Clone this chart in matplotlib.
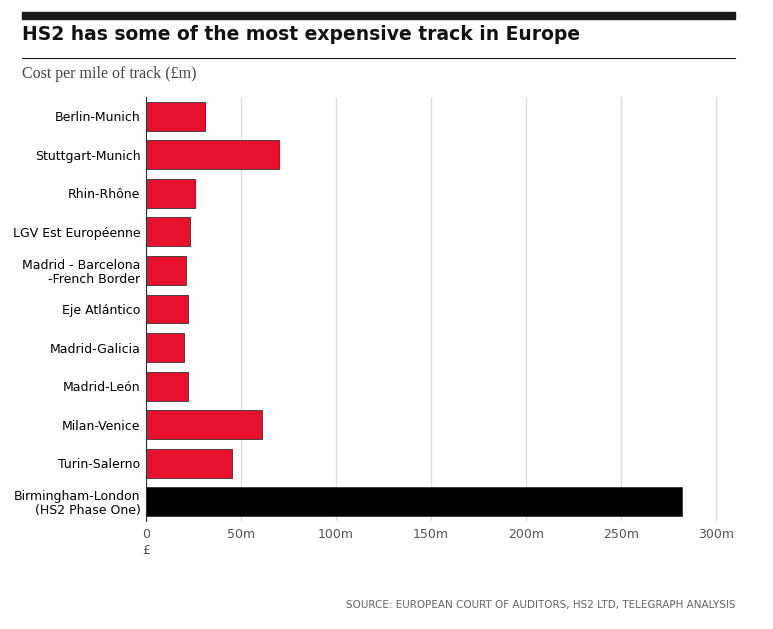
import matplotlib.pyplot as plt
from matplotlib.patches import Rectangle
from matplotlib.lines import Line2D

routes = ["Berlin-Munich", "Stuttgart-Munich", "Rhin-Rhône", "LGV Est Européenne",
          "Madrid - Barcelona\n-French Border", "Eje Atlántico", "Madrid-Galicia",
          "Madrid-León", "Milan-Venice", "Turin-Salerno",
          "Birmingham-London\n(HS2 Phase One)"]
cost = [31, 70, 26, 23, 21, 22, 20, 22, 61, 45, 282]
ticks = [0, 50, 100, 150, 200, 250, 300]
tick_labels = ["0", "50m", "100m", "150m", "200m", "250m", "300m"]

W, H = 773, 629
fig = plt.figure(figsize=(W / 100, H / 100), dpi=100)

# header decorations
fig.add_artist(Rectangle((22 / W, 1 - 19 / H), 713 / W, 7 / H, color="#1a1a1a", transform=fig.transFigure))
fig.add_artist(Line2D([22 / W, 735 / W], [1 - 58 / H] * 2, color="#1a1a1a", lw=0.8, transform=fig.transFigure))
fig.text(22 / W, 1 - 35 / H, "HS2 has some of the most expensive track in Europe",
         fontsize=13.5, fontweight="bold", va="center", color="#111111")
fig.text(22 / W, 1 - 74 / H, "Cost per mile of track (£m)", fontsize=11.5,
         family="Liberation Serif", va="center", color="#444444")
fig.text(735 / W, 1 - 605 / H, "SOURCE: EUROPEAN COURT OF AUDITORS, HS2 LTD, TELEGRAPH ANALYSIS",
         fontsize=7.5, ha="right", va="center", color="#666666")

ax = fig.add_axes([146 / W, 1 - 521 / H, (735 - 146) / W, (521 - 97) / H])
colors = ["#e8112d"] * (len(cost) - 1) + ["#000000"]
y = list(range(len(cost)))
ax.barh(y, cost, height=0.75, color=colors, edgecolor="#333333", linewidth=0.6, zorder=3)
ax.set_ylim(len(cost) - 0.5, -0.5)
ax.set_xlim(0, 310)
ax.set_yticks(y)
ax.set_yticklabels(routes, fontsize=9, linespacing=1.1)
ax.set_xticks(ticks)
ax.set_xticklabels(tick_labels, fontsize=9, color="#555555")
ax.xaxis.grid(True, color="#dddddd", lw=1, zorder=0)
ax.tick_params(axis="y", length=0, pad=4)
ax.tick_params(axis="x", length=0, pad=5)
for s in ["top", "right", "bottom"]:
    ax.spines[s].set_visible(False)
ax.spines["left"].set_color("#333333")
ax.text(0, 1, "£", transform=ax.get_xaxis_transform(), fontsize=9, color="#555555",
        ha="center", va="top")
ax.texts[-1].set_position((0, -0.055))

fig.savefig("out.png", dpi=100)
